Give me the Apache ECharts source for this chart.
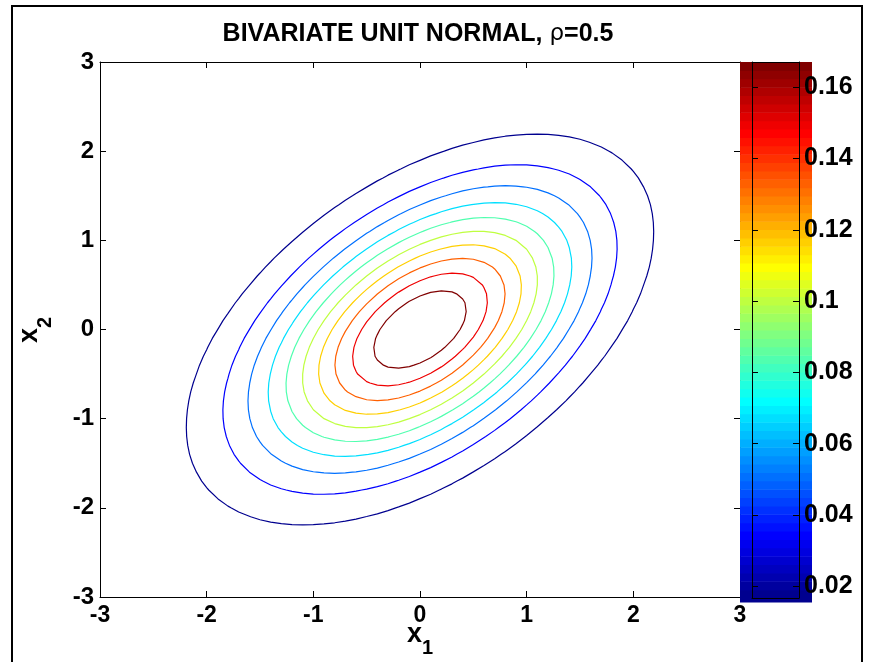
<!DOCTYPE html>
<html>
<head>
<meta charset="utf-8">
<title>Bivariate unit normal contours</title>
<script src="https://cdn.jsdelivr.net/npm/echarts@6/dist/echarts.min.js"></script>
<style>
  html, body { margin: 0; padding: 0; background: #fff; }
  #chart { width: 870px; height: 662px; }
</style>
</head>
<body>
<div id="chart"></div>
<script>
// Correlation of the two unit-normal variables
const rho = 0.5;
// Contour levels of the density (ten equally spaced levels)
const levels = [0.0167, 0.0334, 0.0501, 0.0668, 0.0835, 0.1002, 0.1169, 0.1337, 0.1504, 0.1671];
// Axis ticks
const axisTicks = [-3, -2, -1, 0, 1, 2, 3];
const colorbarTicks = [0.02, 0.04, 0.06, 0.08, 0.1, 0.12, 0.14, 0.16];
// Sampling grid for the density surface
const gridMin = -3, gridMax = 3, gridStep = 0.1;

const FONT = 'Liberation Sans, Arial, Helvetica, sans-serif';

// MATLAB-style jet colormap
function jet(m) {
  const n = Math.ceil(m / 4);
  const u = [];
  for (let i = 1; i <= n; i++) u.push(i / n);
  for (let i = 0; i < n - 1; i++) u.push(1);
  for (let i = n; i >= 1; i--) u.push(i / n);
  const g0 = Math.ceil(n / 2) - (m % 4 === 1 ? 1 : 0);
  const J = Array.from({ length: m }, () => [0, 0, 0]);
  u.forEach((val, k) => {
    const g = g0 + k + 1, r = g + n, b = g - n;
    if (g >= 1 && g <= m) J[g - 1][1] = val;
    if (r >= 1 && r <= m) J[r - 1][0] = val;
    if (b >= 1 && b <= m) J[b - 1][2] = val;
  });
  return J.map(c => 'rgb(' + c.map(v => Math.round(v * 255)).join(',') + ')');
}
const NCOL = 64;
const jetColors = jet(NCOL);
const cMin = levels[0], cMax = levels[levels.length - 1];

function levelColor(L) {
  let idx = Math.floor((L - cMin) / (cMax - cMin) * NCOL);
  idx = Math.max(0, Math.min(NCOL - 1, idx));
  return jetColors[idx];
}

// Density surface on the grid
function density(x, y) {
  const s = 1 - rho * rho;
  return Math.exp(-(x * x - 2 * rho * x * y + y * y) / (2 * s)) / (2 * Math.PI * Math.sqrt(s));
}
const nPts = Math.round((gridMax - gridMin) / gridStep) + 1;
const gv = Array.from({ length: nPts }, (_, i) => +(gridMin + i * gridStep).toFixed(6));
const Z = gv.map(y => gv.map(x => density(x, y))); // Z[j][i]

// Marching squares: returns closed polylines for one level
function contourLines(L) {
  const pts = new Map();
  const adj = new Map();
  function edgePoint(key) {
    if (pts.has(key)) return;
    const [t, a, b] = [key[0], ...key.slice(1).split(',').map(Number)];
    let z1, z2, x, y;
    if (t === 'h') {
      z1 = Z[b][a]; z2 = Z[b][a + 1];
      const f = (L - z1) / (z2 - z1);
      x = gv[a] + f * gridStep; y = gv[b];
    } else {
      z1 = Z[b][a]; z2 = Z[b + 1][a];
      const f = (L - z1) / (z2 - z1);
      x = gv[a]; y = gv[b] + f * gridStep;
    }
    pts.set(key, [x, y]);
  }
  function link(k1, k2) {
    edgePoint(k1); edgePoint(k2);
    if (!adj.has(k1)) adj.set(k1, []);
    if (!adj.has(k2)) adj.set(k2, []);
    adj.get(k1).push(k2); adj.get(k2).push(k1);
  }
  for (let j = 0; j < nPts - 1; j++) {
    for (let i = 0; i < nPts - 1; i++) {
      const za = Z[j][i], zb = Z[j][i + 1], zc = Z[j + 1][i + 1], zd = Z[j + 1][i];
      const A = za >= L, B = zb >= L, C = zc >= L, D = zd >= L;
      const eB = 'h' + i + ',' + j, eR = 'v' + (i + 1) + ',' + j;
      const eT = 'h' + i + ',' + (j + 1), eL = 'v' + i + ',' + j;
      const cross = [];
      if (A !== B) cross.push(eB);
      if (B !== C) cross.push(eR);
      if (C !== D) cross.push(eT);
      if (D !== A) cross.push(eL);
      if (cross.length === 2) link(cross[0], cross[1]);
      else if (cross.length === 4) {
        const center = (za + zb + zc + zd) / 4 >= L;
        if (center === A) { link(eB, eR); link(eT, eL); }
        else { link(eB, eL); link(eR, eT); }
      }
    }
  }
  const visited = new Set();
  const lines = [];
  for (const start of adj.keys()) {
    if (visited.has(start)) continue;
    const line = [];
    let prev = null, cur = start;
    while (cur && !visited.has(cur)) {
      visited.add(cur);
      line.push(pts.get(cur));
      const nb = adj.get(cur).filter(k => k !== prev && !visited.has(k));
      prev = cur;
      cur = nb.length ? nb[0] : null;
    }
    if (adj.get(prev) && adj.get(prev).includes(start)) line.push(pts.get(start));
    lines.push(line);
  }
  return lines;
}

const contourSeries = [];
levels.forEach(L => {
  contourLines(L).forEach(line => {
    contourSeries.push({
      type: 'line',
      xAxisIndex: 0,
      yAxisIndex: 0,
      data: line,
      showSymbol: false,
      symbol: 'none',
      smooth: false,
      silent: true,
      lineStyle: { color: levelColor(L), width: 1.2 },
      z: 3
    });
  });
});

// Colorbar bands
const bands = [];
for (let i = 0; i < NCOL; i++) {
  bands.push([cMin + i * (cMax - cMin) / NCOL, cMin + (i + 1) * (cMax - cMin) / NCOL]);
}

const blackLine = { lineStyle: { color: '#000', width: 1 } };

const option = {
  animation: false,
  backgroundColor: '#fff',
  grid: [
    { left: 100, top: 62, width: 640, height: 535 },
    { left: 752, top: 62, width: 47, height: 536 }
  ],
  xAxis: [
    {
      gridIndex: 0, type: 'value', min: axisTicks[0], max: axisTicks[axisTicks.length - 1], interval: 1,
      position: 'bottom',
      axisLine: { onZero: false, ...blackLine },
      axisTick: { inside: true, length: 6, ...blackLine },
      axisLabel: { color: '#000', fontFamily: FONT, fontWeight: 'bold', fontSize: 23, margin: 7 },
      splitLine: { show: false }
    },
    {
      gridIndex: 0, type: 'value', min: axisTicks[0], max: axisTicks[axisTicks.length - 1], interval: 1,
      position: 'top',
      axisLine: { onZero: false, ...blackLine },
      axisTick: { inside: true, length: 6, ...blackLine },
      axisLabel: { show: false },
      splitLine: { show: false }
    },
    {
      gridIndex: 1, type: 'value', min: 0, max: 1, position: 'bottom', z: 5,
      axisLine: { onZero: false, ...blackLine },
      axisTick: { show: false }, axisLabel: { show: false }, splitLine: { show: false }
    },
    {
      gridIndex: 1, type: 'value', min: 0, max: 1, position: 'top', z: 5,
      axisLine: { onZero: false, ...blackLine },
      axisTick: { show: false }, axisLabel: { show: false }, splitLine: { show: false }
    }
  ],
  yAxis: [
    {
      gridIndex: 0, type: 'value', min: axisTicks[0], max: axisTicks[axisTicks.length - 1], interval: 1,
      position: 'left',
      axisLine: { onZero: false, ...blackLine },
      axisTick: { inside: true, length: 6, ...blackLine },
      axisLabel: { color: '#000', fontFamily: FONT, fontWeight: 'bold', fontSize: 24, margin: 6 },
      splitLine: { show: false }
    },
    {
      gridIndex: 0, type: 'value', min: axisTicks[0], max: axisTicks[axisTicks.length - 1], interval: 1,
      position: 'right',
      axisLine: { onZero: false, ...blackLine },
      axisTick: { inside: true, length: 6, ...blackLine },
      axisLabel: { show: false },
      splitLine: { show: false }
    },
    {
      gridIndex: 1, type: 'value', min: cMin, max: cMax, position: 'left', z: 5,
      axisLine: { onZero: false, ...blackLine },
      axisTick: { inside: true, length: 6, customValues: colorbarTicks, ...blackLine },
      axisLabel: { show: false },
      splitLine: { show: false }
    },
    {
      gridIndex: 1, type: 'value', min: cMin, max: cMax, position: 'right', z: 5,
      axisLine: { onZero: false, ...blackLine },
      axisTick: { inside: true, length: 6, customValues: colorbarTicks, ...blackLine },
      axisLabel: {
        customValues: colorbarTicks,
        color: '#000', fontFamily: FONT, fontWeight: 'bold', fontSize: 25, margin: 5
      },
      splitLine: { show: false }
    }
  ],
  series: [
    ...contourSeries,
    {
      type: 'custom',
      xAxisIndex: 2,
      yAxisIndex: 2,
      silent: true,
      z: 2,
      data: bands,
      encode: { y: [0, 1] },
      renderItem: function (params, api) {
        const lo = api.value(0), hi = api.value(1);
        const cs = params.coordSys;
        const yTop = api.coord([0, hi])[1];
        const yBot = api.coord([0, lo])[1];
        const ext = params.dataIndex === 0 ? 4 : 0;
        return {
          type: 'rect',
          shape: { x: cs.x - 12, y: yTop, width: cs.width + 25, height: yBot - yTop + ext + 0.6 },
          style: { fill: jetColors[params.dataIndex] }
        };
      }
    }
  ],
  graphic: [
    {
      type: 'rect', silent: true, z: 10,
      shape: { x: 12, y: 6, width: 850, height: 700 },
      style: { fill: 'none', stroke: '#000', lineWidth: 2 }
    },
    {
      type: 'text', silent: true, z: 10, x: 418, y: 34,
      style: {
        text: '{b|BIVARIATE UNIT NORMAL, }{r|ρ}{b|=0.5}',
        align: 'center', verticalAlign: 'middle',
        rich: {
          b: { fontFamily: FONT, fontWeight: 'bold', fontSize: 25, fill: '#000' },
          r: { fontFamily: 'DejaVu Sans, sans-serif', fontWeight: 'normal', fontSize: 23, fill: '#000' }
        }
      }
    },
    // x-axis name: x with subscript 1
    {
      type: 'text', silent: true, z: 10, x: 422, y: 648,
      style: { text: 'x', align: 'right', verticalAlign: 'bottom', fontFamily: FONT, fontWeight: 'bold', fontSize: 27, fill: '#000' }
    },
    {
      type: 'text', silent: true, z: 10, x: 422, y: 658,
      style: { text: '1', align: 'left', verticalAlign: 'bottom', fontFamily: FONT, fontWeight: 'bold', fontSize: 20, fill: '#000' }
    },
    // y-axis name: x with subscript 2, rotated
    {
      type: 'group', silent: true, z: 10, x: 43, y: 343, rotation: Math.PI / 2,
      children: [
        {
          type: 'text', x: 0, y: 0,
          style: { text: 'x', align: 'left', verticalAlign: 'bottom', fontFamily: FONT, fontWeight: 'bold', fontSize: 27, fill: '#000' }
        },
        {
          type: 'text', x: 15, y: 12,
          style: { text: '2', align: 'left', verticalAlign: 'bottom', fontFamily: FONT, fontWeight: 'bold', fontSize: 20, fill: '#000' }
        }
      ]
    }
  ]
};

const chart = echarts.init(document.getElementById('chart'), null, { renderer: 'canvas' });
chart.setOption(option);
</script>
</body>
</html>
